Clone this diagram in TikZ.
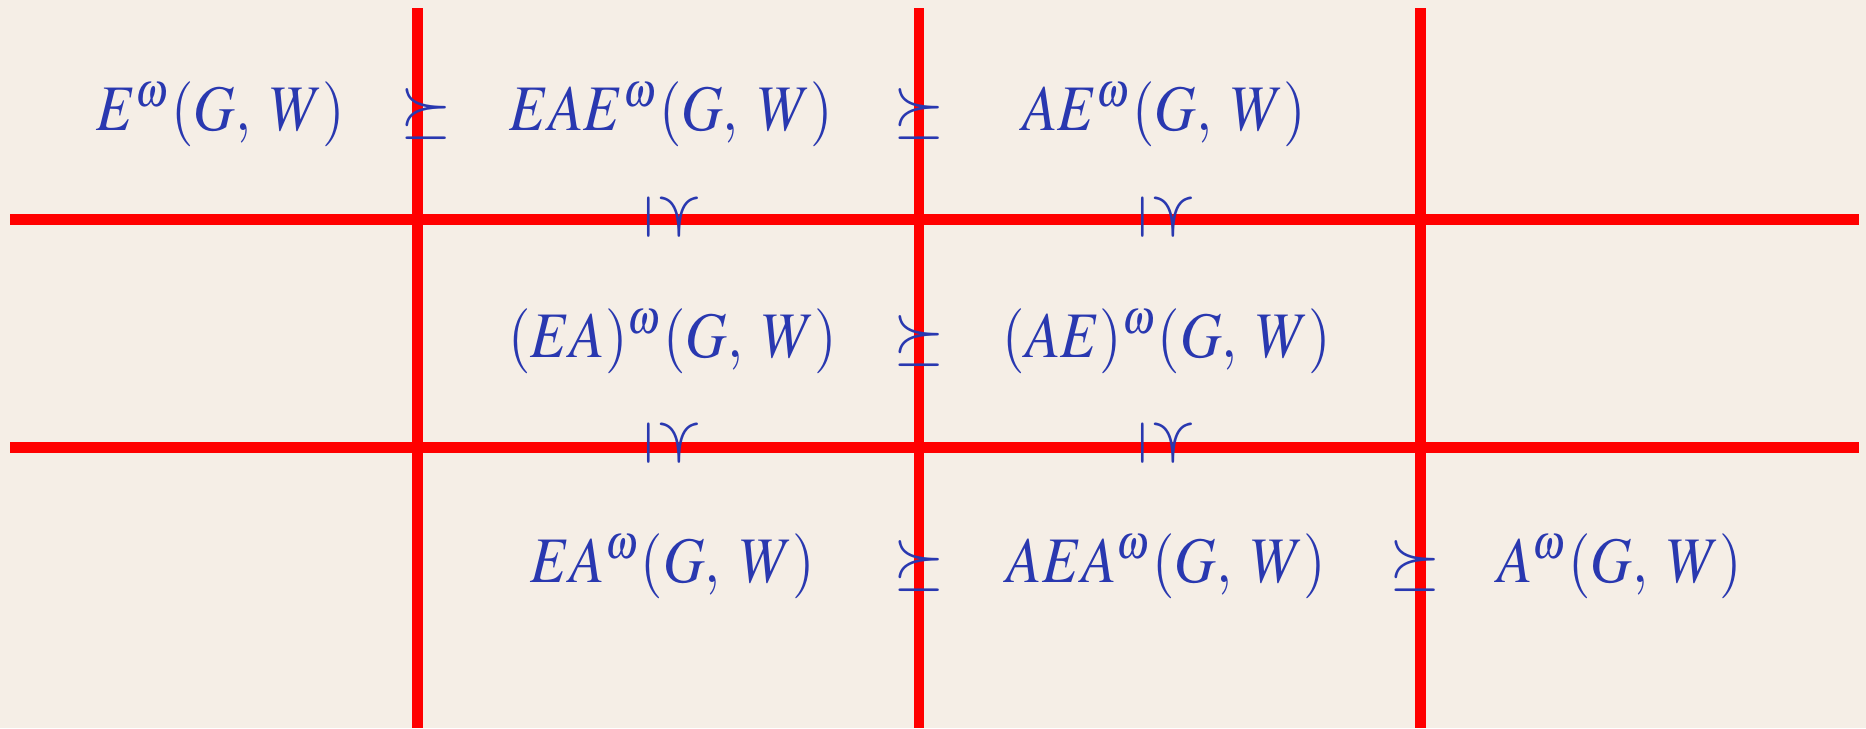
\documentclass[tikz,border=0pt]{standalone}
\usepackage{mathptmx}
\usepackage{graphicx}
\definecolor{bgc}{RGB}{245,238,230}
\definecolor{ink}{RGB}{41,56,176}
\newcommand{\mth}[1]{\scalebox{2.88}[3.25]{$#1$}}
\newcommand{\rel}[1]{\scalebox{3.3}{$#1$}}
\begin{document}
\begin{tikzpicture}[x=0.5pt,y=-0.5pt,
  vline/.style={draw=red,line width=5.25pt},
  hline/.style={draw=red,line width=5.5pt},
  lbl/.style={text=ink,inner sep=0pt,anchor=base},
  vrel/.style={text=ink,inner sep=0pt,anchor=center,rotate=-90}]
\fill[bgc] (0,0) rectangle (1866,728);
\useasboundingbox (0,0) rectangle (1866,728);
% grid lines
\coordinate (v1t) at (417.5,8);  \coordinate (v1b) at (417.5,728);
\coordinate (v2t) at (919,8);    \coordinate (v2b) at (919,728);
\coordinate (v3t) at (1420.5,8); \coordinate (v3b) at (1420.5,728);
\coordinate (h1l) at (10,219.5); \coordinate (h1r) at (1859,219.5);
\coordinate (h2l) at (10,447);   \coordinate (h2r) at (1859,447);
\draw[vline] (v1t) -- (v1b);
\draw[vline] (v2t) -- (v2b);
\draw[vline] (v3t) -- (v3b);
\draw[hline] (h1l) -- (h1r);
\draw[hline] (h2l) -- (h2r);
% row 1
\node[lbl] (r1a) at (220.5,130) {\mth{E^{\omega}(G,\;W)}};
\node[lbl] (r1s1) at (426,130) {\rel{\succeq}};
\node[lbl] (r1b) at (671,130) {\mth{EAE^{\omega}(G,\;W)}};
\node[lbl] (r1s2) at (919.5,130) {\rel{\succeq}};
\node[lbl] (r1c) at (1164,130) {\mth{AE^{\omega}(G,\;W)}};
% row 2
\node[lbl] (r2a) at (672.5,357) {\mth{(EA)^{\omega}(G,\;W)}};
\node[lbl] (r2s) at (919.5,357) {\rel{\succeq}};
\node[lbl] (r2b) at (1167,357) {\mth{(AE)^{\omega}(G,\;W)}};
% row 3
\node[lbl] (r3a) at (672.5,582) {\mth{EA^{\omega}(G,\;W)}};
\node[lbl] (r3s1) at (919.5,582) {\rel{\succeq}};
\node[lbl] (r3b) at (1166.5,582) {\mth{AEA^{\omega}(G,\;W)}};
\node[lbl] (r3s2) at (1415,582) {\rel{\succeq}};
\node[lbl] (r3c) at (1620,582) {\mth{A^{\omega}(G,\;W)}};
% vertical relations
\node[vrel] (c1) at (673,217) {\rel{\succeq}};
\node[vrel] (c2) at (1167,217) {\rel{\succeq}};
\node[vrel] (c3) at (673,443) {\rel{\succeq}};
\node[vrel] (c4) at (1167,443) {\rel{\succeq}};
\end{tikzpicture}
\end{document}
